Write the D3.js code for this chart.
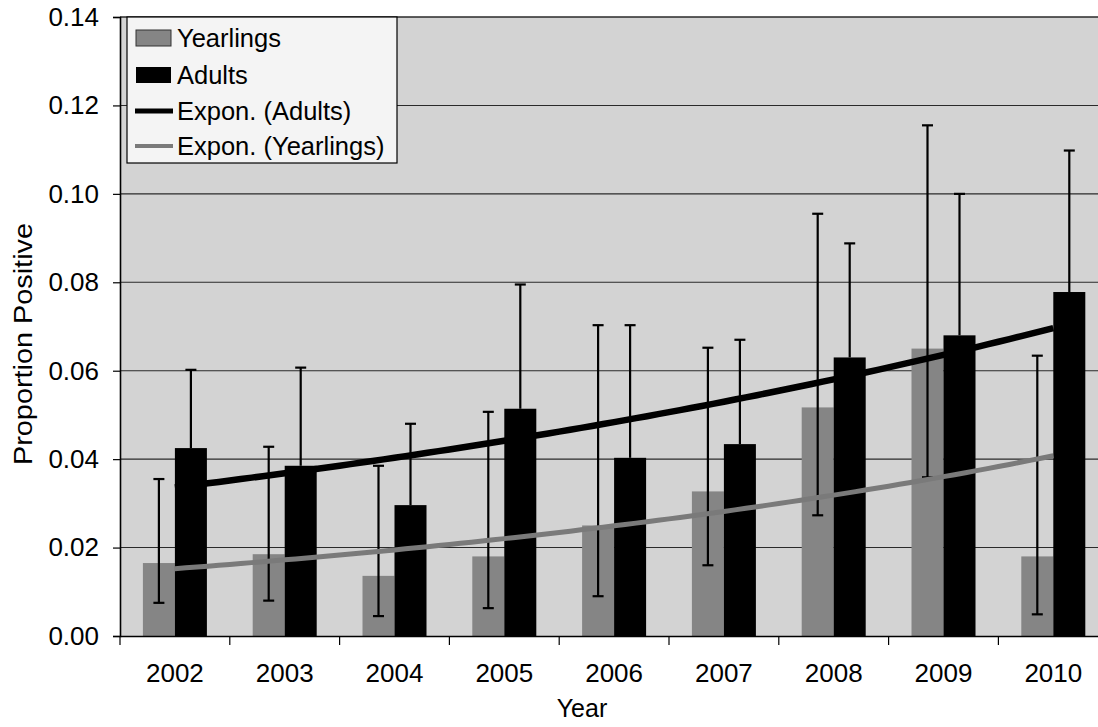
<!DOCTYPE html>
<html>
<head>
<meta charset="utf-8">
<script src="https://cdn.jsdelivr.net/npm/d3@7/dist/d3.min.js"></script>
<style>
  html, body { margin: 0; padding: 0; background: #ffffff; }
  svg { display: block; }
  text { font-family: "Liberation Sans", Arial, sans-serif; fill: #000; }
</style>
</head>
<body>
<svg id="chart" width="1098" height="727"></svg>
<script>
// ---- data ----
const years = ["2002", "2003", "2004", "2005", "2006", "2007", "2008", "2009", "2010"];
const yearlings = [0.0165, 0.0185, 0.0136, 0.0180, 0.0250, 0.0327, 0.0517, 0.0650, 0.0180];
const yearlingsUpper = [0.0355, 0.0428, 0.0385, 0.0507, 0.0703, 0.0652, 0.0955, 0.1155, 0.0634];
const yearlingsLower = [0.0075, 0.0080, 0.0045, 0.0063, 0.0090, 0.0160, 0.0273, 0.0359, 0.0049];
const adults = [0.0425, 0.0385, 0.0296, 0.0514, 0.0403, 0.0434, 0.0630, 0.0680, 0.0778];
const adultsUpper = [0.0602, 0.0607, 0.0480, 0.0795, 0.0703, 0.0670, 0.0888, 0.1000, 0.1098];
const yTicks = [0.00, 0.02, 0.04, 0.06, 0.08, 0.10, 0.12, 0.14];
const seriesNames = ["Yearlings", "Adults"];
const legendLabels = ["Yearlings", "Adults", "Expon. (Adults)", "Expon. (Yearlings)"];

(function () {
// ---- layout ----
const pL = 120, pT = 17, pB = 636, catW = 109.8;
const pR = pL + catW * years.length;
const svg = d3.select("#chart");

const x = d3.scaleBand().domain(years).range([pL, pR]).paddingInner(0).paddingOuter(0);
const xs = d3.scaleBand().domain(seriesNames).range([-32, 32]).padding(0);
const y = d3.scaleLinear().domain([0, 0.14]).range([pB, pT]);

const colYear = "#858585", colAdult = "#000000", plotBg = "#d3d3d3";

// plot background
svg.append("rect").attr("x", pL).attr("y", pT).attr("width", pR - pL).attr("height", pB - pT)
  .attr("fill", plotBg);

// gridlines
svg.append("g").selectAll("line").data(yTicks.filter(d => d > 0)).join("line")
  .attr("x1", pL).attr("x2", pR)
  .attr("y1", d => y(d)).attr("y2", d => y(d))
  .attr("stroke", "#2a2a2a").attr("stroke-width", d => d === 0.14 ? 1.6 : 1.1);

// bars
const cx = (i) => x(years[i]) + x.bandwidth() / 2;
const barG = svg.append("g");
barG.selectAll("rect.y").data(yearlings).join("rect").attr("class", "y")
  .attr("x", (d, i) => cx(i) + xs("Yearlings"))
  .attr("y", d => y(d)).attr("width", xs.bandwidth()).attr("height", d => pB - y(d))
  .attr("fill", colYear);
barG.selectAll("rect.a").data(adults).join("rect").attr("class", "a")
  .attr("x", (d, i) => cx(i) + xs("Adults"))
  .attr("y", d => y(d)).attr("width", xs.bandwidth()).attr("height", d => pB - y(d))
  .attr("fill", colAdult);

// error bars
const errG = svg.append("g").attr("stroke", "#000").attr("stroke-width", 2.2);
const capW = 11;
years.forEach((yr, i) => {
  const xy = cx(i) + xs("Yearlings") + xs.bandwidth() / 2;
  errG.append("line").attr("x1", xy).attr("x2", xy).attr("y1", y(yearlingsUpper[i])).attr("y2", y(yearlingsLower[i]));
  errG.append("line").attr("x1", xy - capW / 2).attr("x2", xy + capW / 2).attr("y1", y(yearlingsUpper[i])).attr("y2", y(yearlingsUpper[i]));
  errG.append("line").attr("x1", xy - capW / 2).attr("x2", xy + capW / 2).attr("y1", y(yearlingsLower[i])).attr("y2", y(yearlingsLower[i]));
  const xa = cx(i) + xs("Adults") + xs.bandwidth() / 2;
  errG.append("line").attr("x1", xa).attr("x2", xa).attr("y1", y(adultsUpper[i])).attr("y2", y(adults[i]));
  errG.append("line").attr("x1", xa - capW / 2).attr("x2", xa + capW / 2).attr("y1", y(adultsUpper[i])).attr("y2", y(adultsUpper[i]));
});

// exponential trend lines (least squares on log values, like Excel)
function expFit(vals) {
  const xsv = vals.map((v, i) => i + 1);
  const ls = vals.map(v => Math.log(v));
  const mx = d3.mean(xsv), ml = d3.mean(ls);
  let sxy = 0, sxx = 0;
  xsv.forEach((xv, i) => { sxy += (xv - mx) * (ls[i] - ml); sxx += (xv - mx) * (xv - mx); });
  const b = sxy / sxx, a = Math.exp(ml - b * mx);
  return t => a * Math.exp(b * t);
}
const tx = d3.scaleLinear().domain([1, years.length]).range([cx(0), cx(years.length - 1)]);
function trendPath(vals) {
  const f = expFit(vals);
  const pts = d3.range(1, years.length + 0.001, 0.1).map(t => [tx(t), y(f(t))]);
  return d3.line()(pts);
}
svg.append("path").attr("d", trendPath(adults)).attr("fill", "none")
  .attr("stroke", "#000").attr("stroke-width", 6.5);
svg.append("path").attr("d", trendPath(yearlings)).attr("fill", "none")
  .attr("stroke", "#7a7a7a").attr("stroke-width", 5);

// axes
const yAxis = d3.axisLeft(y).tickValues(yTicks).tickFormat(d3.format(".2f")).tickSizeOuter(0).tickSize(7).tickPadding(14);
const gy = svg.append("g").attr("transform", `translate(${pL},0)`).call(yAxis);
gy.select(".domain").attr("stroke", "#000").attr("stroke-width", 1.6);
gy.selectAll(".tick line").attr("stroke", "#000").attr("stroke-width", 1.2);
gy.selectAll(".tick text").attr("font-size", 26).attr("font-family", "Liberation Sans, Arial, sans-serif");

const xAxis = d3.axisBottom(x).tickSize(0).tickPadding(28);
const gx = svg.append("g").attr("transform", `translate(0,${pB})`).call(xAxis);
gx.select(".domain").attr("stroke", "#000").attr("stroke-width", 1.6);
gx.selectAll(".tick text").attr("font-size", 26).attr("font-family", "Liberation Sans, Arial, sans-serif");
// category boundary tick marks
svg.append("g").selectAll("line").data(d3.range(years.length + 1)).join("line")
  .attr("x1", i => pL + i * catW).attr("x2", i => pL + i * catW)
  .attr("y1", pB).attr("y2", pB + 9)
  .attr("stroke", "#000").attr("stroke-width", 1.2);

// axis titles
svg.append("text").attr("x", 582).attr("y", 717).attr("text-anchor", "middle")
  .attr("font-size", 25).text("Year");
svg.append("text").attr("transform", "translate(32,344) rotate(-90)").attr("text-anchor", "middle")
  .attr("font-size", 26).attr("textLength", 242).attr("lengthAdjust", "spacingAndGlyphs")
  .text("Proportion Positive");

// legend
const lg = svg.append("g");
lg.append("rect").attr("x", 127).attr("y", 17).attr("width", 270).attr("height", 146)
  .attr("fill", "#f4f4f4").attr("stroke", "#000").attr("stroke-width", 1.2);
const rowY = [38, 75, 111, 146];
lg.append("rect").attr("x", 136).attr("y", rowY[0] - 8).attr("width", 35).attr("height", 16).attr("fill", colYear).attr("stroke", "#333");
lg.append("rect").attr("x", 136).attr("y", rowY[1] - 8).attr("width", 35).attr("height", 16).attr("fill", colAdult);
lg.append("line").attr("x1", 135).attr("x2", 173).attr("y1", rowY[2]).attr("y2", rowY[2]).attr("stroke", "#000").attr("stroke-width", 5);
lg.append("line").attr("x1", 135).attr("x2", 173).attr("y1", rowY[3]).attr("y2", rowY[3]).attr("stroke", "#7a7a7a").attr("stroke-width", 4);
lg.selectAll("text.lt").data(legendLabels).join("text").attr("class", "lt")
  .attr("x", 177).attr("y", (d, i) => rowY[i]).attr("dy", "0.36em")
  .attr("font-size", 25.5).text(d => d);
})();
</script>
</body>
</html>
